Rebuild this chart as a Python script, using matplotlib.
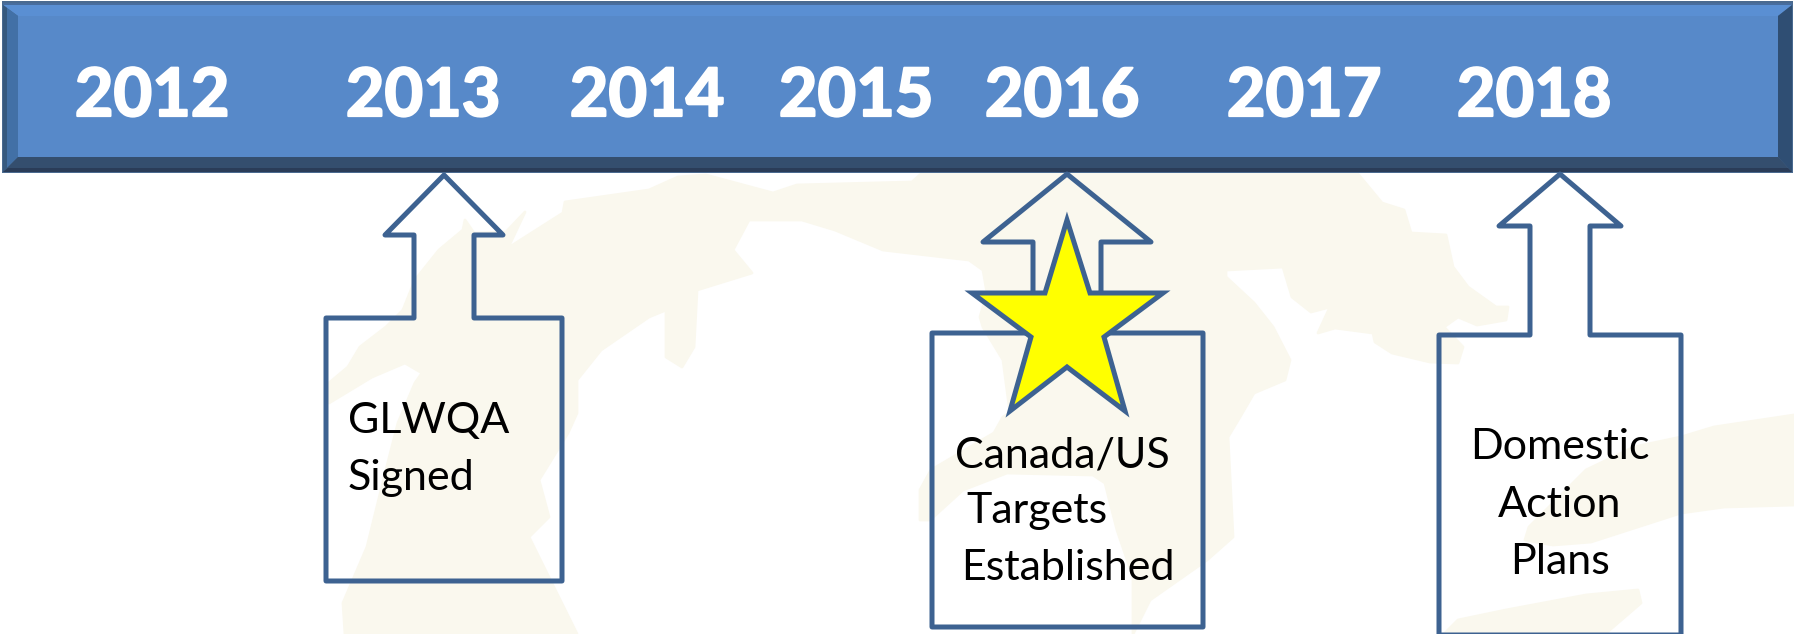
"""Timeline banner: years on a bevelled bar, three callout arrows over a faint lakes map."""
import matplotlib

matplotlib.use("Agg")
import matplotlib.patheffects as pe
import matplotlib.pyplot as plt
from matplotlib.patches import Polygon

# all coordinates are pixels of the 1794x634 picture, y going down
YEARS = ["2012", "2013", "2014", "2015", "2016", "2017", "2018"]
YEAR_X = [152, 423, 647, 856, 1062, 1304, 1534]
YEAR_BASELINE = 116

LEFT_TEXTS = ["GLWQA", "Signed", "Canada/US", "Targets", "Established"]
LEFT_TEXT_X = [348, 348, 955, 966, 961]
LEFT_TEXT_Y = [433, 490, 467, 523, 580]
CENTER_TEXTS = ["Domestic", "Action", "Plans"]
CENTER_TEXT_Y = [459, 517, 574]
CENTER_TEXT_X = 1560

# tip x, tip y, head half width, head y, shaft half width, box left, box right, box top, box bottom
CALLOUT_1 = [444, 175, 59, 235, 30, 326, 562, 318, 581]
CALLOUT_2 = [1067, 174, 84, 242, 34, 932, 1203, 333, 627]
CALLOUT_3 = [1560, 174, 61, 226, 30, 1439, 1681, 335, 635]

STAR = [(1067, 220), (1090, 293), (1163, 293), (1104, 337), (1125, 411),
        (1067, 367), (1010, 411), (1031, 337), (972, 293), (1045, 293)]

LAKES_MAIN = [
    (345, 634), (343, 603), (367, 547), (386, 470), (398, 423), (415, 383), (422, 373),
    (405, 363), (372, 377), (329, 403), (329, 383), (348, 367), (360, 347), (386, 327),
    (403, 310), (415, 280), (439, 250), (463, 230), (465, 220), (474, 233), (506, 232),
    (525, 212), (508, 248), (563, 213), (565, 202), (649, 190), (678, 177), (706, 175),
    (773, 193), (797, 185), (912, 182), (921, 174), (1358, 174), (1382, 203), (1404, 210),
    (1411, 233), (1446, 235), (1453, 267), (1468, 287), (1496, 307), (1508, 307),
    (1506, 320), (1477, 325), (1458, 317), (1444, 327), (1463, 347), (1458, 363),
    (1430, 362), (1392, 353), (1375, 342), (1373, 333), (1335, 328), (1318, 333),
    (1330, 307), (1311, 312), (1292, 297), (1283, 267), (1226, 270), (1226, 277),
    (1254, 303), (1273, 327), (1290, 360), (1285, 380), (1254, 393), (1240, 417),
    (1228, 437), (1233, 537), (1207, 560), (1150, 600), (1133, 634), (1133, 577),
    (1117, 530), (1105, 483), (1093, 475), (1007, 473), (963, 490), (930, 520),
    (920, 520), (920, 490), (931, 470), (994, 433), (1003, 417), (1010, 413), (1003, 360),
    (983, 327), (980, 317), (987, 293), (983, 270), (969, 260), (883, 250), (835, 230),
    (802, 220), (749, 220), (733, 250), (752, 273), (697, 290), (694, 347), (682, 367),
    (666, 357), (666, 310), (649, 317), (601, 350), (577, 380), (577, 413), (568, 433),
    (539, 480), (549, 517), (529, 537), (577, 634),
]
LAKE_ERIE = [
    (1794, 415), (1714, 427), (1681, 437), (1634, 447), (1586, 470), (1529, 527),
    (1525, 540), (1553, 545), (1591, 542), (1681, 513), (1724, 507), (1794, 505),
]
LAKE_ONTARIO = [
    (1444, 634), (1458, 620), (1506, 610), (1586, 595), (1638, 590), (1641, 603), (1605, 634),
]

OUTLINE = "#3d6291"
MAP_COLOR = "#faf8ee"


def callout_points(tip_x, tip_y, head_half, head_y, shaft_half, left, right, top, bottom):
    return [
        (tip_x, tip_y), (tip_x + head_half, head_y), (tip_x + shaft_half, head_y),
        (tip_x + shaft_half, top), (right, top), (right, bottom), (left, bottom),
        (left, top), (tip_x - shaft_half, top), (tip_x - shaft_half, head_y),
        (tip_x - head_half, head_y),
    ]


fig = plt.figure(figsize=(17.94, 6.34), dpi=100)
ax = fig.add_axes([0, 0, 1, 1])
ax.set_xlim(0, 1794)
ax.set_ylim(634, 0)
ax.axis("off")

for lake in (LAKES_MAIN, LAKE_ERIE, LAKE_ONTARIO):
    ax.add_patch(Polygon(lake, closed=True, fc=MAP_COLOR, ec=MAP_COLOR, lw=2, joinstyle="round", zorder=1))

# bevelled bar: face, then the four sloped sides
ax.add_patch(Polygon([(2, 1), (1793, 1), (1793, 173), (2, 173)], fc="#4a6a90", ec="none", zorder=2))
ax.add_patch(Polygon([(18, 16), (1778, 16), (1778, 157), (18, 157)], fc="#5789c9", ec="none", zorder=3))
ax.add_patch(Polygon([(3, 5), (1792, 5), (1778, 16), (18, 16)], fc="#5a8fd3", ec="none", zorder=3))
ax.add_patch(Polygon([(3, 3), (1792, 3), (1792, 5), (3, 5)], fc="#486d9e", ec="none", zorder=3))
ax.add_patch(Polygon([(3, 5), (18, 16), (18, 157), (3, 172)], fc="#4270a6", ec="none", zorder=3))
ax.add_patch(Polygon([(3, 5), (7, 8), (7, 168), (3, 172)], fc="#36597f", ec="none", zorder=3))
ax.add_patch(Polygon([(1792, 5), (1778, 16), (1778, 157), (1792, 172)], fc="#2f4e73", ec="none", zorder=3))
ax.add_patch(Polygon([(3, 172), (18, 157), (1778, 157), (1792, 172)], fc="#344e6e", ec="none", zorder=3))
ax.add_patch(Polygon([(3, 172), (8, 168), (1788, 168), (1792, 172)], fc="#2a3c58", ec="none", zorder=3))

for callout in (CALLOUT_1, CALLOUT_2, CALLOUT_3):
    ax.add_patch(Polygon(callout_points(*callout), closed=True, fill=False, ec=OUTLINE,
                         lw=3.6, joinstyle="round", zorder=4))

ax.add_patch(Polygon(STAR, closed=True, fc="#ffff00", ec=OUTLINE, lw=3.6, joinstyle="miter", zorder=5))

for year, x in zip(YEARS, YEAR_X):
    ax.text(x, YEAR_BASELINE, year, color="white", family="Lato", weight="bold", fontsize=48,
            ha="center", va="baseline", zorder=6,
            path_effects=[pe.withStroke(linewidth=1.6, foreground="white")])

for label, x, y in zip(LEFT_TEXTS, LEFT_TEXT_X, LEFT_TEXT_Y):
    ax.text(x, y, label, color="black", family="Lato", fontsize=31, ha="left", va="baseline", zorder=6)

for label, y in zip(CENTER_TEXTS, CENTER_TEXT_Y):
    ax.text(CENTER_TEXT_X, y, label, color="black", family="Lato", fontsize=31,
            ha="center", va="baseline", zorder=6)

fig.savefig("out.png", dpi=100)
plt.close(fig)
